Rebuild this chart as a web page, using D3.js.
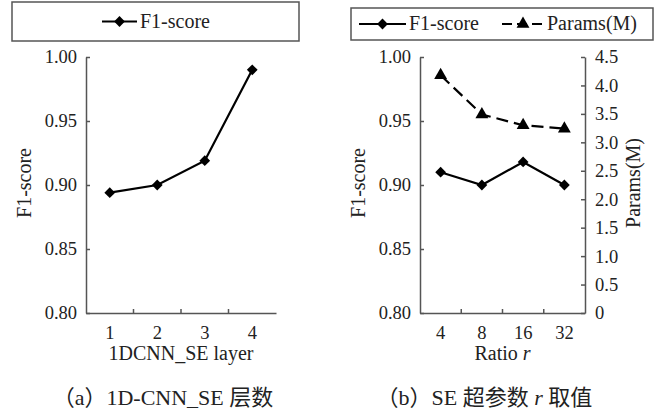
<!DOCTYPE html>
<html>
<head>
<meta charset="utf-8">
<script src="https://cdn.jsdelivr.net/npm/d3@7"></script>
<style>
  body { margin: 0; background: #fff; }
  text { font-family: "Liberation Serif", "Times New Roman", "Noto Sans CJK SC", serif; fill: #222; }
</style>
</head>
<body>
<svg id="chart" width="658" height="418"></svg>
<script>
// data
const layers = ["1", "2", "3", "4"];
const layerF1 = [0.894, 0.900, 0.919, 0.990];

const ratios = ["4", "8", "16", "32"];
const ratioF1 = [0.910, 0.900, 0.918, 0.900];
const ratioParams = [4.18, 3.49, 3.30, 3.24];

const f1Ticks = [0.80, 0.85, 0.90, 0.95, 1.00];
const paramTicks = [0, 0.5, 1.0, 1.5, 2.0, 2.5, 3.0, 3.5, 4.0, 4.5];

const axisColor = "#555";
const svg = d3.select("#chart");

// shared vertical range
const plotTop = 57, plotBottom = 313;
const yF1 = d3.scaleLinear().domain([0.80, 1.00]).range([plotBottom, plotTop]);
const yParams = d3.scaleLinear().domain([0, 4.5]).range([plotBottom, plotTop]);

function diamond(g, pts) {
    g.selectAll(null).data(pts).enter().append("path")
        .attr("d", d3.symbol().type(d3.symbolDiamond2).size(74))
        .attr("transform", d => `translate(${d[0]},${d[1]})`)
        .attr("fill", "#000");
}

function triangle(g, pts) {
    g.selectAll(null).data(pts).enter().append("path")
        .attr("d", d3.symbol().type(d3.symbolTriangle).size(72))
        .attr("transform", d => `translate(${d[0]},${d[1]})`)
        .attr("fill", "#000");
}

function styleAxis(g) {
    g.selectAll("path, line").attr("stroke", axisColor).attr("stroke-width", 1.5);
    g.selectAll("text").attr("font-size", 18.5).attr("fill", "#222")
        .style("font-family", '"Liberation Serif", serif');
}

function panel(cats, left, right, xTitle, caption, series, legend) {
    const g = svg.append("g");
    const x = d3.scaleBand().domain(cats).range([left, right]);

    // x axis, labels only, boundary ticks drawn by hand
    const gx = g.append("g").attr("transform", `translate(0,${plotBottom})`)
        .call(d3.axisBottom(x).tickSize(0).tickPadding(8).tickSizeOuter(0));
    styleAxis(gx);
    gx.selectAll(".tick text").attr("dy", "0.95em");
    g.selectAll(null).data(cats.slice(1)).enter().append("line")
        .attr("x1", d => x(d)).attr("x2", d => x(d))
        .attr("y1", plotBottom).attr("y2", plotBottom - 4)
        .attr("stroke", axisColor).attr("stroke-width", 1.5);

    // left y axis
    const gy = g.append("g").attr("transform", `translate(${left},0)`)
        .call(d3.axisLeft(yF1).tickValues(f1Ticks).tickFormat(d3.format(".2f"))
            .tickSize(-4).tickPadding(9).tickSizeOuter(0));
    styleAxis(gy);

    g.append("text")
        .attr("transform", `translate(${left - 55},183) rotate(-90)`)
        .attr("text-anchor", "middle").attr("font-size", 20)
        .text("F1-score");

    const xt = g.append("text")
        .attr("x", (left + right) / 2).attr("y", 360)
        .attr("text-anchor", "middle").attr("font-size", 20);
    xt.append("tspan").text(xTitle[0]);
    if (xTitle[1]) xt.append("tspan").attr("font-style", "italic").text(xTitle[1]);

    const ct = g.append("text")
        .attr("x", (left + right) / 2 - 18).attr("y", 405)
        .attr("text-anchor", "middle").attr("font-size", 22);
    caption.forEach(p => {
        const t = ct.append("tspan").text(p.t);
        if (p.i) t.attr("font-style", "italic");
    });

    series.forEach(s => {
        const pts = cats.map((c, i) => [x(c) + x.bandwidth() / 2, s.y(s.values[i])]);
        g.append("path")
            .attr("d", d3.line()(pts))
            .attr("fill", "none").attr("stroke", "#000").attr("stroke-width", 2.2)
            .attr("stroke-dasharray", s.dash || null);
        (s.marker === "tri" ? triangle : diamond)(g, pts);
    });

    // legend box
    g.append("rect")
        .attr("x", legend.x).attr("y", legend.y)
        .attr("width", legend.w).attr("height", legend.h)
        .attr("fill", "#fff").attr("stroke", axisColor).attr("stroke-width", 1.5);
    const cy = legend.y + legend.h / 2;
    legend.items.forEach(it => {
        g.append("line")
            .attr("x1", it.x).attr("x2", it.x + it.len)
            .attr("y1", cy).attr("y2", cy)
            .attr("stroke", "#000").attr("stroke-width", 2.2)
            .attr("stroke-dasharray", it.dash || null);
        (it.marker === "tri" ? triangle : diamond)(g, [[it.x + it.len / 2, cy]]);
        g.append("text")
            .attr("x", it.x + it.len + 3).attr("y", cy + 6)
            .attr("font-size", 20).text(it.label);
    });

    return { g, x };
}

// (a) number of 1D-CNN_SE layers
panel(layers, 86, 276, ["1DCNN_SE layer"],
    [{ t: "（a）1D-CNN_SE 层数" }],
    [{ values: layerF1, y: yF1, marker: "dia" }],
    { x: 12, y: 2, w: 287, h: 39,
      items: [{ x: 102, len: 35, label: "F1-score", marker: "dia" }] });

// (b) SE ratio r
const pb = panel(ratios, 420, 585, ["Ratio ", "r"],
    [{ t: "（b）SE 超参数 " }, { t: "r", i: true }, { t: " 取值" }],
    [{ values: ratioF1, y: yF1, marker: "dia" },
     { values: ratioParams, y: yParams, marker: "tri", dash: "12,6" }],
    { x: 351, y: 8, w: 302, h: 32,
      items: [{ x: 359, len: 47, label: "F1-score", marker: "dia" },
              { x: 502, len: 42, label: "Params(M)", marker: "tri", dash: "10,5" }] });

// right axis for params
const gr = pb.g.append("g").attr("transform", "translate(585,0)")
    .call(d3.axisRight(yParams).tickValues(paramTicks)
        .tickFormat(d => d === 0 ? "0" : d3.format(".1f")(d))
        .tickSize(-4).tickPadding(10).tickSizeOuter(0));
styleAxis(gr);

pb.g.append("text")
    .attr("transform", "translate(640,183) rotate(-90)")
    .attr("text-anchor", "middle").attr("font-size", 20)
    .text("Params(M)");
</script>
</body>
</html>
